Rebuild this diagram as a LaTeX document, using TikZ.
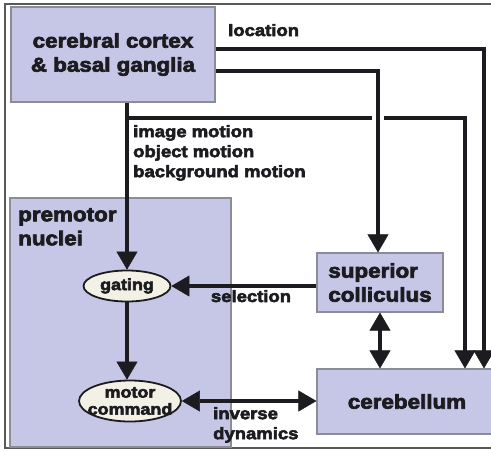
\documentclass[tikz,border=0pt]{standalone}
\usepackage{fontspec}
\setmainfont{Liberation Sans}[FakeStretch=1.12, BoldFeatures={FakeBold=3.5}]
\usepackage{tikz}
\usetikzlibrary{shapes}
\usetikzlibrary{arrows.meta}

\definecolor{boxfill}{RGB}{198,198,230}
\definecolor{boxline}{RGB}{140,140,152}
\definecolor{ovalfill}{RGB}{243,241,230}
\definecolor{ink}{RGB}{28,28,32}

\tikzset{
  region/.style={draw=boxline, fill=boxfill, line width=1.2pt, inner sep=0pt, text=ink},
  oval/.style={ellipse, draw=ink, fill=ovalfill, line width=1.8pt, inner xsep=-8pt, inner ysep=-4pt,
    text=ink, align=center, font=\bfseries\fontsize{16}{17}\selectfont},
  big/.style={font=\bfseries\fontsize{20}{24}\selectfont},
  tag/.style={font=\bfseries\fontsize{16.5}{20}\selectfont, inner sep=0pt, text=ink},
  wire/.style={draw=ink, line width=4.5pt},
  arr/.style={wire, -{Triangle[length=18pt,width=21pt,line width=0.5pt]}},
  darr/.style={wire, {Triangle[length=18pt,width=21pt,line width=0.5pt]}-{Triangle[length=18pt,width=21pt,line width=0.5pt]}},
}

\begin{document}
\begin{tikzpicture}[x=1pt,y=-1pt]
    \useasboundingbox (0,0) rectangle (491,451);
    \clip (0,0) rectangle (491,451);
    \draw[gray!70!black,line width=1.5pt] (492,4) -- (5,4) -- (5,448) -- (492,448);

    % areas
    \node[region, big, minimum width=204pt, minimum height=95pt, align=center] (cortex) at (113,54.5) {cerebral cortex\\\& basal ganglia};
    \node[region, minimum width=221pt, minimum height=249pt] (premotor) at (120.5,322.5) {};
    \node[big, anchor=north west, align=left, inner sep=0pt, text=ink] (premotortext) at (18,208) {premotor\\nuclei};
    \node[region, big, minimum width=126pt, minimum height=59pt, align=left] (colliculus) at (380,282.5) {superior\\colliculus};
    \node[region, big, minimum width=180pt, minimum height=65pt] (cerebellum) at (407,401.5) {cerebellum};

    \node[oval, minimum width=87pt, minimum height=31pt] (gating) at (127,286) {gating};
    \node[oval, minimum width=102pt, minimum height=41pt] (motor) at (130,401) {motor\\command};

    % labels on the wires
    \node[tag, anchor=base west] (location) at (228,36) {location};
    \node[tag, anchor=north west, align=left] (motion) at (133,125) {image motion\\object motion\\background motion};
    \node[tag, anchor=base] (selection) at (251,302) {selection};
    \node[tag, anchor=north west, align=left] (inverse) at (213,407) {inverse\\dynamics};

    \coordinate (locturn) at (484,49);
    \coordinate (scturn) at (378,71);
    \coordinate (branch) at (127,118);
    \coordinate (cbturn) at (465,118);

    \draw[arr] (cortex.east |- locturn) -- (locturn) -- (locturn |- cerebellum.north);
    \draw[arr] (gating.north |- cortex.south) -- (gating.north);
    \draw[arr] (branch) -- (cbturn) -- (cbturn |- cerebellum.north);
    \draw[white,line width=12pt] (scturn |- branch) ++(0,-6) -- ++(0,12);
    \draw[arr] (cortex.east |- scturn) -- (scturn) -- (scturn |- colliculus.north);

    \draw[arr] (gating.east -| colliculus.west) -- (gating.east);
    \draw[arr] (gating.south) -- (gating.south |- motor.north);
    \draw[darr] (colliculus.south) -- (colliculus.south |- cerebellum.north);
    \draw[darr] (motor.east) -- (motor.east -| cerebellum.west);
  \end{tikzpicture}
\end{document}
